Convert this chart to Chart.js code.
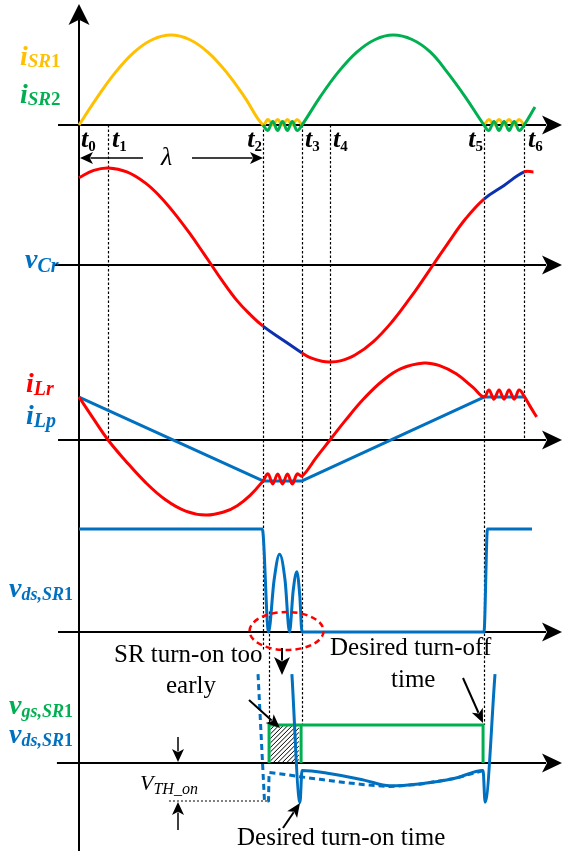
<!DOCTYPE html>
<html>
<head>
<meta charset="utf-8">
<title>SR timing</title>
<script src="https://cdn.jsdelivr.net/npm/chart.js@4.4.1/dist/chart.umd.min.js"></script>
<style>
  html, body { margin: 0; padding: 0; background: #fff; }
  .chart-box { width: 568px; height: 857px; }
</style>
</head>
<body>
<div class="chart-box"><canvas id="myChart"></canvas></div>
<script>
// time in units of lambda: t0 = 0, t2 = 1
const tMarks = [0, 0.158, 1.0, 1.212, 1.364, 2.201, 2.419];

// panel 1: SR currents (1 = peak)
const iSR1 = [[0,0],[0.1,0.31],[0.2,0.59],[0.3,0.81],[0.4,0.95],[0.5,1.0],[0.6,0.95],[0.7,0.81],[0.8,0.59],[0.9,0.31],[1.0,0],
  [1.026,0.06],[1.053,0],[1.079,0.06],[1.106,0],[1.132,0.06],[1.159,0],[1.185,0.06],[1.212,0],[1.5,null],
  [2.201,0],[2.228,0.06],[2.255,0],[2.283,0.06],[2.31,0],[2.337,0.06],[2.365,0],[2.392,0.06],[2.419,0]];
const iSR2 = [[1.0,0],[1.026,-0.06],[1.053,0.04],[1.079,-0.06],[1.106,0.04],[1.132,-0.06],[1.159,0.04],[1.185,-0.06],[1.212,0],
  [1.31,0.31],[1.41,0.59],[1.51,0.81],[1.61,0.95],[1.707,1.0],[1.81,0.95],[1.91,0.81],[2.0,0.59],[2.1,0.31],[2.201,0],
  [2.228,-0.06],[2.255,0.04],[2.283,-0.06],[2.31,0.04],[2.337,-0.06],[2.365,0.04],[2.392,-0.06],[2.419,0],[2.478,0.2]];

// panel 2: resonant capacitor voltage (1 = peak)
const vCr = [[0,0.9],[0.08,0.975],[0.16,1.0],[0.26,0.96],[0.36,0.847],[0.44,0.707],[0.52,0.53],[0.6,0.33],[0.68,0.112],[0.72,0],
  [0.78,-0.167],[0.86,-0.37],[0.93,-0.51],[1.0,-0.63],[1.106,-0.77],[1.212,-0.907],
  [1.26,-0.958],[1.32,-0.992],[1.364,-1.0],[1.42,-0.988],[1.5,-0.928],[1.6,-0.789],[1.7,-0.588],[1.8,-0.34],[1.86,-0.179],[1.924,0],
  [2.0,0.211],[2.1,0.474],[2.201,0.68],[2.31,0.82],[2.419,0.959],[2.47,0.96]];

// panel 3: resonant and magnetising currents
const iLr = [[0,0.558],[0.08,0.27],[0.158,0],[0.25,-0.262],[0.36,-0.547],[0.47,-0.776],[0.58,-0.923],[0.69,-0.974],[0.79,-0.932],
  [0.86,-0.853],[0.93,-0.72],[1.0,-0.532],
  [1.027,-0.44],[1.053,-0.57],[1.08,-0.44],[1.106,-0.57],[1.133,-0.44],[1.159,-0.57],[1.186,-0.44],[1.212,-0.47],
  [1.29,-0.225],[1.364,0],[1.45,0.261],[1.55,0.541],[1.65,0.77],[1.75,0.927],[1.875,1.0],[1.96,0.966],[2.05,0.859],[2.14,0.686],[2.201,0.558],
  [2.228,0.65],[2.255,0.53],[2.283,0.65],[2.31,0.53],[2.337,0.65],[2.365,0.53],[2.392,0.65],[2.419,0.57],[2.451,0.44],[2.487,0.3]];
const iLp = [[0,0.558],[1.0,-0.532],[1.212,-0.532],[2.201,0.558],[2.419,0.558]];

// panel 4: drain-source voltage of SR1 (1 = off level)
const vds = [[0,1],[0.996,1],[1.03,0],[1.06,0.5],[1.09,0.755],[1.12,0.5],[1.144,0],[1.164,0.4],[1.184,0.585],[1.2,0.35],[1.212,0],
  [2.201,0],[2.22,1],[2.462,1]];

// panel 5: gate signal and zoomed vds (1 = gate high)
const vgs5 = [[1.033,0],[1.033,1],[1.207,1],[1.207,0],[1.207,1],[2.196,1],[2.196,0]];
const vds5 = [[1.157,2.34],[1.201,-1.04],[1.212,-0.2],[1.351,-0.27],[1.549,-0.45],[1.689,-0.6],[1.847,-0.55],[2.043,-0.4],
  [2.196,-0.2],[2.207,-1.03],[2.261,2.34]];
const vds5Early = [[0.973,2.34],[1.008,-1.0],[1.03,-1.0],[1.033,-0.25],[1.12,-0.3],[1.2,-0.36],[1.31,-0.43],[1.42,-0.5],
  [1.55,-0.57],[1.69,-0.62],[1.85,-0.56],[2.04,-0.41],[2.196,-0.2]];
const vth = [[0.489,-1.0],[1.033,-1.0]];
const hatchSpan = [1.04, 1.195];

const W = 568, H = 857;
const X0 = 79, XS = 184; // origin and px per lambda
const panels = {
  p1: { base: 125, gain: 90 },
  p2: { base: 265, gain: 97 },
  p3: { base: 440, gain: 77 },
  p4: { base: 632, gain: 103 },
  p5: { base: 763, gain: 38 }
};
const axisStart = { p1: -0.114, p2: -0.136, p3: -0.114, p4: -0.114, p5: -0.12 };
const axisTip = 2.625;

const F = '"Liberation Serif","Times New Roman",serif';
const BLUE = '#0070C0', RED = '#FF0000', GREEN = '#00B050', ORANGE = '#FFC000', NAVY = '#0B30B0';
const BI = s => `italic bold ${s}px ${F}`;
const B = s => `bold ${s}px ${F}`;
const I = s => `italic ${s}px ${F}`;
const R = s => `${s}px ${F}`;

const pts = a => a.map(p => ({ x: p[0], y: p[1] }));

let scales = {
  x: { type: 'linear', display: false, min: -X0 / XS, max: (W - X0) / XS }
};
Object.keys(panels).forEach(k => {
  const p = panels[k];
  scales[k] = { type: 'linear', display: false, min: (p.base - H) / p.gain, max: p.base / p.gain };
});

// smooth waveform (bezier), steps use monotone or straight lines
function line(data, axis, color, opts) {
  return Object.assign({
    data: pts(data), yAxisID: axis, borderColor: color, borderWidth: 3,
    pointRadius: 0, fill: false, borderJoinStyle: 'round', tension: 0.4
  }, opts || {});
}
const straight = { tension: 0 };
const mono = { tension: 0, cubicInterpolationMode: 'monotone' };

const blueSeg = (a, b) => (a >= 0.999 && b <= 1.213) || (a >= 2.2 && b <= 2.42);

const datasets = [
  line(iSR1, 'p1', ORANGE, { order: 20 }),
  line(iSR2, 'p1', GREEN, { order: 19 }),
  line(vCr, 'p2', RED, { order: 18, segment: { borderColor: c => blueSeg(c.p0.parsed.x, c.p1.parsed.x) ? NAVY : RED } }),
  line(iLp, 'p3', BLUE, Object.assign({ order: 17 }, straight)),
  line(iLr, 'p3', RED, { order: 16 }),
  line(vds, 'p4', BLUE, Object.assign({ order: 15 }, mono)),
  line(vth, 'p5', '#000', Object.assign({ order: 14, borderWidth: 1, borderDash: [2, 2] }, straight)),
  line(vgs5, 'p5', GREEN, Object.assign({ order: 13, borderJoinStyle: 'miter' }, straight)),
  line(vds5Early, 'p5', BLUE, Object.assign({ order: 12, borderDash: [6, 4] }, straight)),
  line(vds5, 'p5', BLUE, Object.assign({ order: 11 }, mono))
];

function head(ctx, x1, y1, x2, y2, len, half) {
  const a = Math.atan2(y2 - y1, x2 - x1), c = Math.cos(a), s = Math.sin(a);
  ctx.beginPath();
  ctx.moveTo(x2, y2);
  ctx.lineTo(x2 - len * c + half * s, y2 - len * s - half * c);
  ctx.lineTo(x2 - len * 0.75 * c, y2 - len * 0.75 * s);
  ctx.lineTo(x2 - len * c - half * s, y2 - len * s + half * c);
  ctx.closePath();
  ctx.fill();
}
function arrow(ctx, x1, y1, x2, y2, len, half, w) {
  const a = Math.atan2(y2 - y1, x2 - x1);
  ctx.lineWidth = w;
  ctx.beginPath();
  ctx.moveTo(x1, y1);
  ctx.lineTo(x2 - len * 0.8 * Math.cos(a), y2 - len * 0.8 * Math.sin(a));
  ctx.stroke();
  head(ctx, x1, y1, x2, y2, len, half);
}
function rich(ctx, x, y, color, parts, measureOnly) {
  ctx.fillStyle = color;
  let cx = x;
  parts.forEach(p => {
    ctx.font = p[1];
    if (!measureOnly) ctx.fillText(p[0], cx, y + (p[2] || 0));
    cx += ctx.measureText(p[0]).width;
  });
  return cx - x;
}

const diagram = {
  id: 'diagram',
  beforeDatasetsDraw(chart) {
    const ctx = chart.ctx;
    const px = u => chart.scales.x.getPixelForValue(u);
    const py = (k, v) => chart.scales[k].getPixelForValue(v);
    ctx.save();

    // dotted time markers
    const marks = [
      [tMarks[1], py('p1', 0), py('p3', 0)],
      [tMarks[2], py('p1', 0), py('p4', -0.17)],
      [vgs5[0][0], py('p4', 0.2), py('p5', 1)],
      [tMarks[3], py('p1', 0), py('p5', 1)],
      [tMarks[4], py('p1', 0), py('p3', 0)],
      [tMarks[5], py('p1', 0), py('p5', 1)],
      [tMarks[6], py('p1', 0), py('p3', 0)]
    ];
    ctx.strokeStyle = '#000';
    ctx.lineWidth = 1.2;
    ctx.setLineDash([2.5, 2]);
    marks.forEach(m => {
      ctx.beginPath();
      ctx.moveTo(Math.round(px(m[0])) + 0.5, m[1]);
      ctx.lineTo(Math.round(px(m[0])) + 0.5, m[2]);
      ctx.stroke();
    });
    ctx.setLineDash([]);

    // hatched area (early conduction)
    const hx0 = px(hatchSpan[0]), hx1 = px(hatchSpan[1]);
    const hy0 = py('p5', 1), hy1 = py('p5', 0);
    ctx.save();
    ctx.beginPath();
    ctx.rect(hx0, hy0, hx1 - hx0, hy1 - hy0);
    ctx.clip();
    ctx.lineWidth = 1;
    const hh = hy1 - hy0;
    for (let k = -hh; k < hx1 - hx0 + hh; k += 4.5) {
      ctx.beginPath();
      ctx.moveTo(hx0 + k, hy1);
      ctx.lineTo(hx0 + k + hh, hy0);
      ctx.stroke();
    }
    ctx.restore();

    // axes
    ctx.fillStyle = '#000';
    ctx.strokeStyle = '#000';
    ctx.lineWidth = 2;
    ctx.beginPath();
    ctx.moveTo(X0, 851);
    ctx.lineTo(X0, 20);
    ctx.stroke();
    head(ctx, X0, 851, X0, 4, 21, 10.5);
    Object.keys(panels).forEach(k => {
      const y = py(k, 0);
      ctx.beginPath();
      ctx.moveTo(px(axisStart[k]), y);
      ctx.lineTo(px(axisTip) - 16, y);
      ctx.stroke();
      head(ctx, px(axisStart[k]), y, px(axisTip), y, 20, 9.5);
    });
    ctx.restore();
  },
  afterDatasetsDraw(chart) {
    const ctx = chart.ctx;
    const px = u => chart.scales.x.getPixelForValue(u);
    const py = (k, v) => chart.scales[k].getPixelForValue(v);
    ctx.save();
    ctx.textBaseline = 'alphabetic';
    ctx.textAlign = 'left';

    // signal names
    rich(ctx, 20, 65, ORANGE, [['i', BI(28)], ['SR', BI(19), 2], ['1', B(19), 2]]);
    rich(ctx, 20, 103, GREEN, [['i', BI(28)], ['SR', BI(19), 2], ['2', B(19), 2]]);
    rich(ctx, 25, 268, BLUE, [['v', BI(28)], ['Cr', BI(20), 4]]);
    rich(ctx, 26, 392, RED, [['i', BI(28)], ['Lr', BI(20), 3]]);
    rich(ctx, 26, 424, BLUE, [['i', BI(28)], ['Lp', BI(20), 3]]);
    rich(ctx, 9, 597, BLUE, [['v', BI(28)], ['ds,SR', BI(18), 3], ['1', B(18), 3]]);
    rich(ctx, 9, 714, GREEN, [['v', BI(28)], ['gs,SR', BI(18), 3], ['1', B(18), 3]]);
    rich(ctx, 9, 743, BLUE, [['v', BI(28)], ['ds,SR', BI(18), 3], ['1', B(18), 3]]);

    // time labels
    const tDx = [2, 4, null, 3, 3, null, 4];
    tMarks.forEach((t, i) => {
      const parts = [['t', BI(26)], [String(i), B(15), 4]];
      let x = px(t) + (tDx[i] === null ? 0 : tDx[i]);
      if (tDx[i] === null) x = px(t) - 1 - rich(ctx, 0, 0, '#000', parts, true);
      rich(ctx, x, 147, '#000', parts);
    });

    // lambda span
    ctx.fillStyle = '#000';
    ctx.strokeStyle = '#000';
    arrow(ctx, 143, 158, px(tMarks[0]) + 1, 158, 13, 6, 1.5);
    arrow(ctx, 192, 158, px(tMarks[2]), 158, 13, 6, 1.5);
    ctx.font = I(26);
    ctx.fillText('λ', 161, 165);

    // dashed ellipse around the ringing
    ctx.strokeStyle = RED;
    ctx.lineWidth = 2.5;
    ctx.setLineDash([6, 4]);
    ctx.beginPath();
    ctx.ellipse(px(1.128), py('p4', 0) - 1, 37, 19, 0, 0, Math.PI * 2);
    ctx.stroke();
    ctx.setLineDash([]);

    // annotation arrows
    ctx.strokeStyle = '#000';
    ctx.fillStyle = '#000';
    arrow(ctx, 282, 648, 282, 675, 18, 8, 2);
    arrow(ctx, 249, 700, 280, 728, 14, 6, 2);
    arrow(ctx, 463, 678, 483, 723, 14, 6, 2);
    arrow(ctx, 283, 828, 300, 803, 14, 6, 2);
    arrow(ctx, 178, 737, 178, py('p5', 0) - 1, 13, 6, 1.5);
    arrow(ctx, 178, 830, 178, py('p5', -1) + 1, 13, 6, 1.5);

    // annotation text
    ctx.font = R(25);
    ctx.fillText('SR turn-on too', 114, 662);
    ctx.fillText('early', 166, 693);
    ctx.fillText('Desired turn-off', 330, 655);
    ctx.fillText('time', 391, 687);
    ctx.fillText('Desired turn-on time', 237, 845);
    rich(ctx, 140, 790, '#000', [['V', I(22)], ['TH_on', I(16), 4]]);
    ctx.restore();
  }
};

new Chart(document.getElementById('myChart'), {
  type: 'line',
  data: { datasets: datasets },
  options: {
    responsive: true,
    maintainAspectRatio: false,
    animation: false,
    events: [],
    layout: { padding: 0 },
    scales: scales,
    plugins: { legend: { display: false }, tooltip: { enabled: false }, title: { display: false } }
  },
  plugins: [diagram]
});
</script>
</body>
</html>
